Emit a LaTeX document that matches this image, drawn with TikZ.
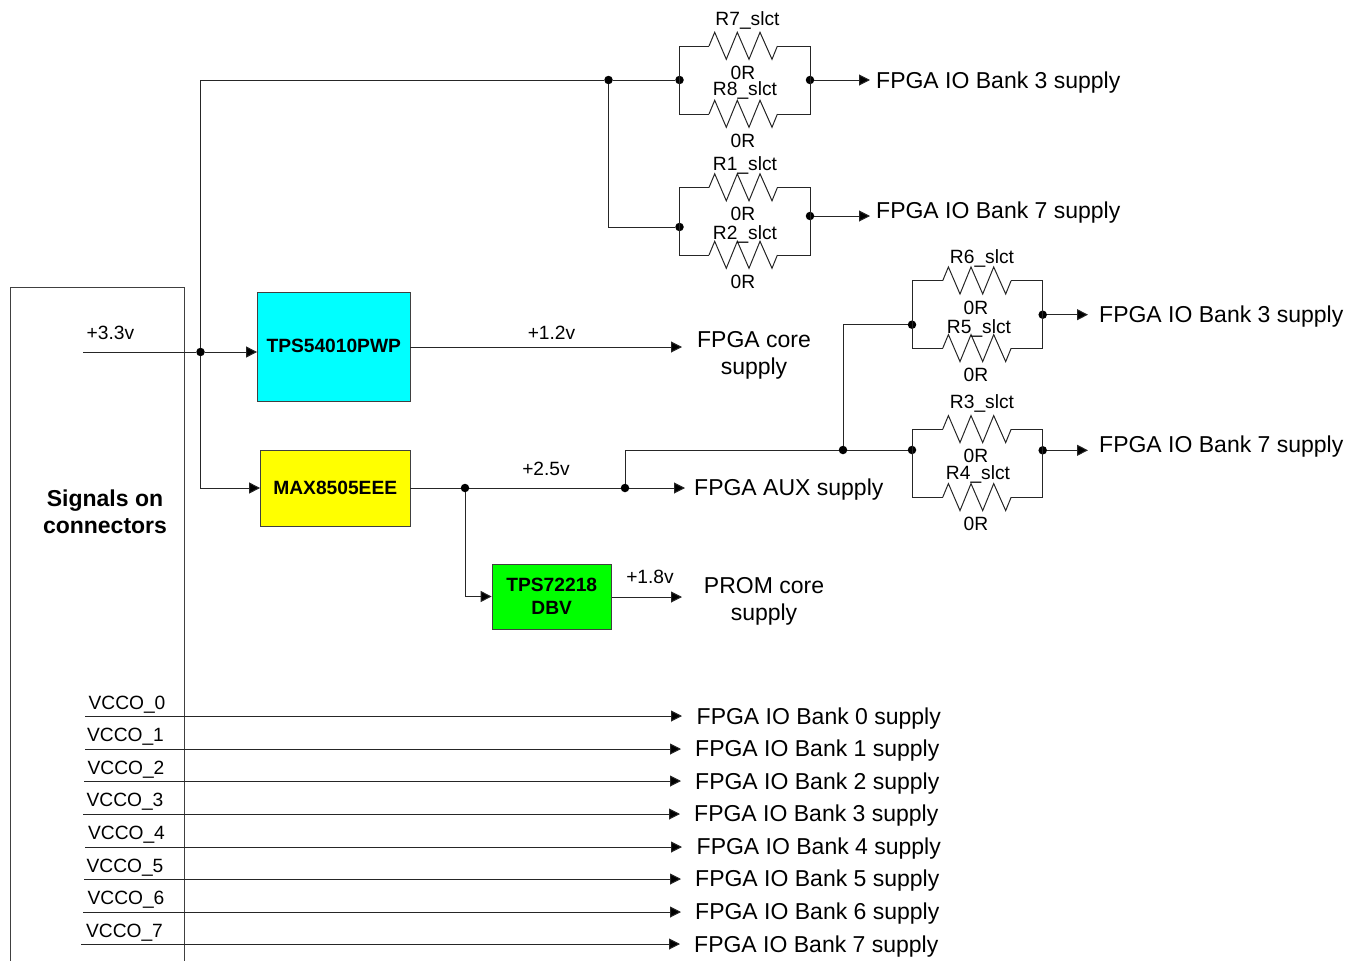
\documentclass[tikz,border=0pt]{standalone}
\usepackage{fontspec}
\setmainfont{Liberation Sans}
\usetikzlibrary{arrows.meta,calc}
\definecolor{chipcyan}{RGB}{0,255,255}
\definecolor{chipyellow}{RGB}{255,255,0}
\definecolor{chipgreen}{RGB}{0,255,0}
\tikzset{
  wire/.style={draw=black!85,line width=1pt,line join=miter},
  arrowwire/.style={wire,-{Triangle[length=11pt,width=11pt,fill=black]}},
  dotnode/.style={circle,fill=black,inner sep=0pt,minimum size=8.5pt},
  lab/.style={inner sep=0pt,text height=13.8pt,text depth=0pt,font=\fontsize{19.2}{22}\selectfont},
  big/.style={inner sep=0pt,text height=16.5pt,text depth=0pt,anchor=west,font=\fontsize{23}{27}\selectfont},
  bigc/.style={inner sep=0pt,align=center,font=\fontsize{23}{27}\selectfont},
  chip/.style={draw=black!75,line width=.8pt,inner sep=0pt,align=center,font=\bfseries\fontsize{19.2}{23}\selectfont},
}
% zigzag resistor between named points: start coordinate name, x-start, y
\newcommand{\zigres}[3]{%
  \coordinate (#1a) at (#2,#3);
  \draw[wire] (#1a) -- ++(5.7,-13.7) -- ++(11.6,27) -- ++(11,-27) -- ++(11.7,27) -- ++(11,-27) -- ++(12,27) -- ++(5.4,-13.3) coordinate (#1b);
}
% parallel pair: id, xl, xr, ytop, ybot, y left junction, y right junction, zigzag start
\newcommand{\pairres}[8]{%
  \coordinate (#1tl) at (#2,#4); \coordinate (#1tr) at (#3,#4);
  \coordinate (#1bl) at (#2,#5); \coordinate (#1br) at (#3,#5);
  \node[dotnode] (#1jl) at (#2,#6) {};
  \node[dotnode] (#1jr) at (#3,#7) {};
  \zigres{#1t}{#8}{#4}
  \zigres{#1u}{#8}{#5}
  \draw[wire] (#1ta) -- (#1tl) -- (#1bl) -- (#1ua);
  \draw[wire] (#1tb) -- (#1tr) -- (#1br) -- (#1ub);
}
\begin{document}
\begin{tikzpicture}[x=1pt,y=-1pt]
\useasboundingbox (0,0) rectangle (1361,961);
% connector box
\coordinate (boxbl) at (10.5,961);
\coordinate (boxtl) at (10.5,287);
\coordinate (boxtr) at (184.5,287);
\coordinate (boxbr) at (184.5,961);
\draw[wire,draw=black!75] (boxbl) -- (boxtl) -- (boxtr) -- (boxbr);
\node[bigc,font=\bfseries\fontsize{23}{27}\selectfont] (sig) at (105,512) {Signals on\\connectors};

% chips
\node[chip,fill=chipcyan,minimum width=152.5pt,minimum height=109pt] (tps) at (333.75,346.5) {\raisebox{1.5pt}{TPS54010PWP}};
\node[chip,fill=chipyellow,minimum width=149.5pt,minimum height=76pt] (max) at (335.25,488) {MAX8505EEE};
\node[chip,fill=chipgreen,minimum width=119.5pt,minimum height=65pt] (ldo) at (551.75,596.5) {TPS72218\\DBV};

% resistor groups
\pairres{A}{679.5}{810}{46}{114}{80}{80}{709}
\pairres{B}{679.5}{810}{187.5}{255}{227}{216}{709}
\pairres{C}{912}{1042.7}{280.7}{348.3}{324.7}{314.7}{942.7}
\pairres{D}{912}{1042.7}{429.3}{497.3}{450}{450.3}{942.7}

% junctions
\node[dotnode] (j33) at (200.5,352) {};
\node[dotnode] (jtop) at (608.5,80) {};
\node[dotnode] (j25a) at (465,488) {};
\node[dotnode] (j25b) at (625,488) {};
\node[dotnode] (j25c) at (843,450) {};

% 3.3 V distribution
\coordinate (v33) at (83,352);
\coordinate (cornertop) at (200.5,80);
\coordinate (cornermax) at (200.5,488);
\draw[arrowwire] (v33) -- (j33) -- (tps.west |- j33);
\draw[arrowwire] (j33) -- (cornermax) -- (max.west |- cornermax);
\draw[wire] (j33) -- (cornertop) -- (jtop) -- (Ajl);
\draw[wire] (jtop) -- (jtop |- Bjl) -- (Bjl);

% 1.2 V
\coordinate (e12) at (682,347);
\draw[arrowwire] (tps.east |- e12) -- (e12);

% 2.5 V
\coordinate (e25) at (685,488);
\draw[arrowwire] (max.east |- e25) -- (j25a) -- (j25b) -- (e25);
\draw[arrowwire] (j25a) -- (j25a |- ldo.west) -- (ldo.west);
\draw[wire] (j25b) -- (j25b |- j25c) -- (j25c) -- (Djl);
\draw[wire] (j25c) -- (j25c |- Cjl) -- (Cjl);

% 1.8 V
\coordinate (e18) at (682,597);
\draw[arrowwire] (ldo.east |- e18) -- (e18);

% outputs
\coordinate (oA) at (870,80);
\coordinate (oB) at (870,216);
\coordinate (oC) at (1088,314.7);
\coordinate (oD) at (1088,450.3);
\draw[arrowwire] (Ajr) -- (oA);
\draw[arrowwire] (Bjr) -- (oB);
\draw[arrowwire] (Cjr) -- (oC);
\draw[arrowwire] (Djr) -- (oD);

% resistor labels
\node[lab] (r7) at (747.5,19) {R7\_slct};
\node[lab] (r7v) at (743,72.5) {0R};
\node[lab] (r8) at (745,88.5) {R8\_slct};
\node[lab] (r8v) at (743,141) {0R};
\node[lab] (r1) at (745,164) {R1\_slct};
\node[lab] (r1v) at (743,214) {0R};
\node[lab] (r2) at (745,233) {R2\_slct};
\node[lab] (r2v) at (743,282) {0R};
\node[lab] (r6) at (982,257) {R6\_slct};
\node[lab] (r6v) at (976,308) {0R};
\node[lab] (r5) at (979,327) {R5\_slct};
\node[lab] (r5v) at (976,375) {0R};
\node[lab] (r3) at (982,402) {R3\_slct};
\node[lab] (r3v) at (976,456) {0R};
\node[lab] (r4) at (978,473) {R4\_slct};
\node[lab] (r4v) at (976,524) {0R};

% rail labels
\node[lab] (t33) at (110.5,333) {+3.3v};
\node[lab] (t12) at (551.5,333) {+1.2v};
\node[lab] (t25) at (546,469) {+2.5v};
\node[lab] (t18) at (650,577) {+1.8v};

% supply labels
\node[big] (sA) at (876,80) {FPGA IO Bank 3 supply};
\node[big] (sB) at (876,210) {FPGA IO Bank 7 supply};
\node[big] (sC) at (1099,314) {FPGA IO Bank 3 supply};
\node[big] (sD) at (1099,444) {FPGA IO Bank 7 supply};
\node[big] (sAux) at (694,487) {FPGA AUX supply};
\node[bigc] (sCore) at (754,355) {FPGA core\\supply};
\node[bigc] (sProm) at (764,601) {PROM core\\supply};

% VCCO rails
\foreach \n/\ys/\xs/\xe/\xl/\yl/\xt/\yt in {
  0/716/85/682/127/703/696.5/716,
  1/749/85/681/125.5/735/695/748,
  2/781/84/681/126/768/695/781,
  3/814/83/680/125/800/694/813,
  4/847/85/682/126.5/833/696.5/846,
  5/879/84/681/125/866/695/878,
  6/912/83/681/126/898/695/911,
  7/944/81/680/124.5/931/694/944}{
  \coordinate (vs\n) at (\xs,\ys);
  \coordinate (ve\n) at (\xe,\ys);
  \draw[arrowwire] (vs\n) -- (ve\n);
  \node[lab] (vl\n) at (\xl,\yl) {VCCO\_\n};
  \node[big] (vt\n) at (\xt,\yt) {FPGA IO Bank \n\ supply};
}
\end{tikzpicture}
\end{document}
